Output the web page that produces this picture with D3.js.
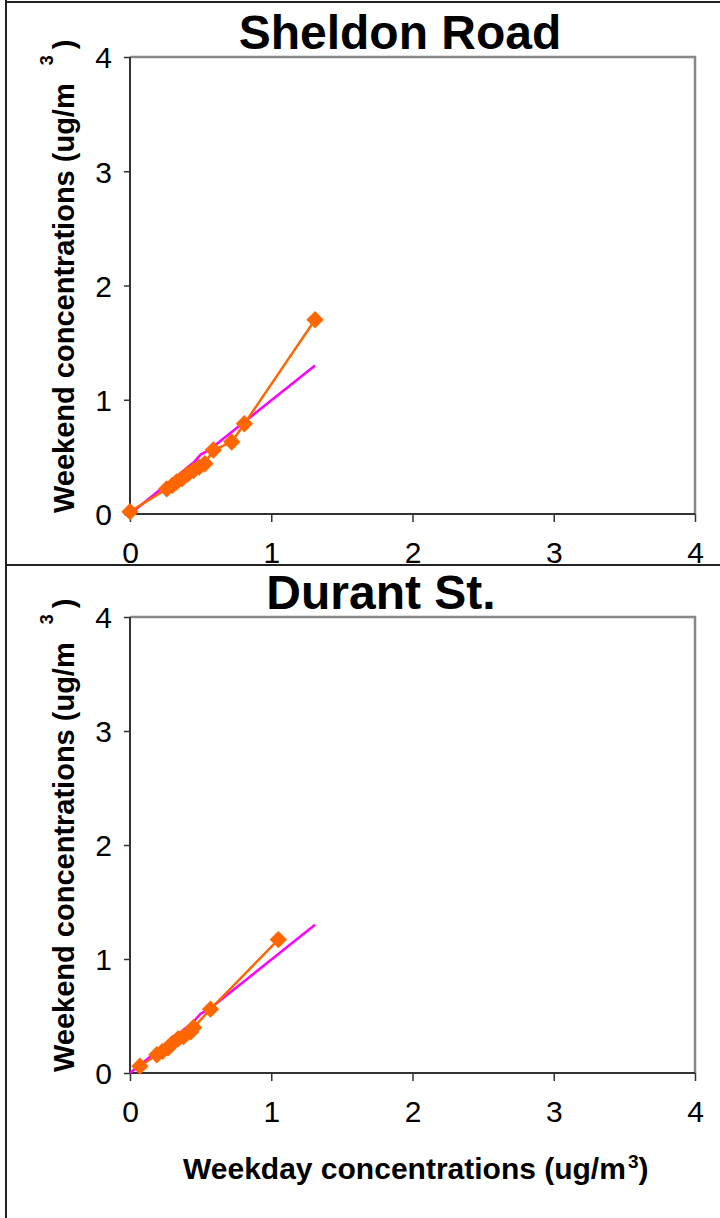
<!DOCTYPE html>
<html><head><meta charset="utf-8">
<script src="https://cdn.jsdelivr.net/npm/d3@7"></script>
<style>body{margin:0;background:#fff}svg{display:block}text{font-family:"Liberation Sans",Arial,sans-serif}</style>
</head><body><svg id="c" width="720" height="1218"></svg>
<script>
const xTicks = [0, 1, 2, 3, 4];
const yTicks = [0, 1, 2, 3, 4];
const panelTitles = ["Sheldon Road", "Durant St."];
const sheldonWeekday = [0.00, 0.26, 0.30, 0.33, 0.37, 0.41, 0.45, 0.49, 0.53, 0.59, 0.72, 0.81, 1.31];
const sheldonWeekend = [0.02, 0.22, 0.25, 0.28, 0.31, 0.35, 0.38, 0.41, 0.44, 0.56, 0.63, 0.79, 1.70];
const durantWeekday = [0.07, 0.19, 0.23, 0.27, 0.30, 0.34, 0.38, 0.43, 0.45, 0.57, 1.05];
const durantWeekend = [0.06, 0.16, 0.19, 0.22, 0.26, 0.30, 0.32, 0.36, 0.40, 0.56, 1.17];
const refX = [0, 0.45, 0.50, 0.56, 1.31];
const refY = [0, 0.45, 0.52, 0.56, 1.30];

const svg = d3.select("#c");
const panels = [
  {title: panelTitles[0], xs: sheldonWeekday, ys: sheldonWeekend, top: 57, bottom: 514, tx: 400, ty: 49},
  {title: panelTitles[1], xs: durantWeekday, ys: durantWeekend, top: 617, bottom: 1073, tx: 381, ty: 609}
];

// outer frame
svg.append("line").attr("x1",6).attr("x2",6).attr("y1",0).attr("y2",1218).attr("stroke","#222").attr("stroke-width",2);
svg.append("line").attr("x1",6).attr("x2",720).attr("y1",2).attr("y2",2).attr("stroke","#222").attr("stroke-width",2);
svg.append("line").attr("x1",6).attr("x2",720).attr("y1",565).attr("y2",565).attr("stroke","#222").attr("stroke-width",2);

panels.forEach(p => {
  const x = d3.scaleLinear().domain([0,4]).range([130,695]);
  const y = d3.scaleLinear().domain([0,4]).range([p.bottom,p.top]);
  const g = svg.append("g");
  // gray top/right border
  g.append("path").attr("d", `M${x(0)},${y(4)}H${x(4)}V${y(0)}`).attr("fill","none").attr("stroke","#888").attr("stroke-width",2.5);
  // axes
  const xa = g.append("g").attr("transform",`translate(0,${y(0)})`)
    .call(d3.axisBottom(x).tickValues(xTicks).tickSize(8).tickPadding(20).tickFormat(d3.format("d")));
  const ya = g.append("g").attr("transform",`translate(${x(0)},0)`)
    .call(d3.axisLeft(y).tickValues(yTicks).tickSize(6).tickPadding(12).tickFormat(d3.format("d")));
  [xa, ya].forEach(a => {
    a.select(".domain").attr("stroke","#333").attr("stroke-width",2);
    a.selectAll(".tick line").attr("stroke","#333").attr("stroke-width",1.5);
    a.selectAll("text").attr("font-size",30).attr("fill","#000").attr("font-family","Liberation Sans, Arial, sans-serif");
  });
  xa.select(".domain").attr("d", `M${x(0)},0H${x(4)}`);
  ya.select(".domain").attr("d", `M0,${y(0)}V${y(4)}`);
  xa.selectAll(".tick text").attr("dy","0.7em");
  ya.selectAll(".tick text").attr("dy","0.36em");

  // reference line (magenta)
  const refPts = refX.map((v,i)=>[v, refY[i]]);
  g.append("path").datum(refPts)
    .attr("d", d3.line().x(d=>x(d[0])).y(d=>y(d[1])))
    .attr("fill","none").attr("stroke","#FF00FF").attr("stroke-width",2.5);

  const pts = p.xs.map((v,i)=>[v, p.ys[i]]);
  g.append("path").datum(pts)
    .attr("d", d3.line().x(d=>x(d[0])).y(d=>y(d[1])))
    .attr("fill","none").attr("stroke","#FF6600").attr("stroke-width",2.5);
  g.selectAll("path.pt").data(pts).join("path").attr("class","pt")
    .attr("transform", d=>`translate(${x(d[0])},${y(d[1])}) rotate(45)`)
    .attr("d", d3.symbol().type(d3.symbolSquare).size(150))
    .attr("fill","#FF6600");

  // title
  g.append("text").attr("x",p.tx).attr("y",p.ty).attr("text-anchor","middle")
    .attr("font-size",48).attr("font-weight","bold").text(p.title);

  // y label
  const yl = g.append("text").attr("transform",`translate(74,${p.bottom-1}) rotate(-90)`)
    .attr("font-size",29).attr("font-weight","bold");
  yl.append("tspan").text("Weekend concentrations (ug/m");
  yl.append("tspan").attr("dx",18).attr("dy",-21).attr("font-size",18).text("3");
  yl.append("tspan").attr("dx",6).attr("dy",21).text(")");
});

// x label
const xl = svg.append("text").attr("x",183).attr("y",1179).attr("font-size",30).attr("font-weight","bold");
xl.append("tspan").text("Weekday concentrations (ug/m");
xl.append("tspan").attr("dx",2).attr("dy",-11).attr("font-size",19).text("3");
xl.append("tspan").attr("dy",11).text(")");
</script></body></html>
